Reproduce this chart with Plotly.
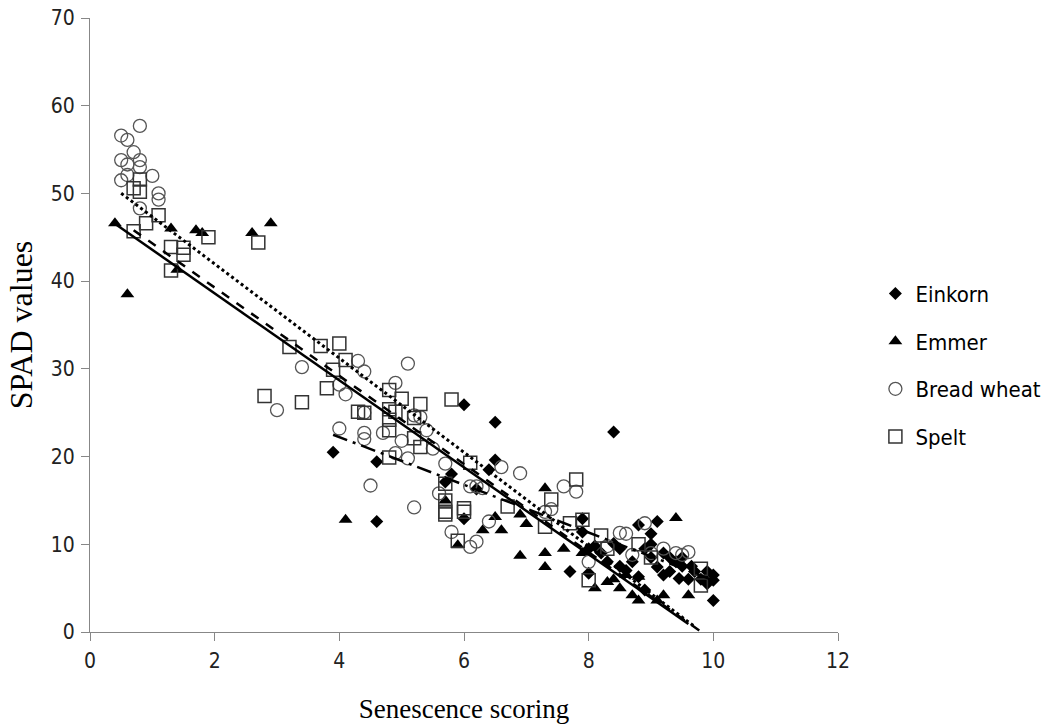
import numpy as np
import plotly.graph_objects as go

# ---- data ----
einkorn_x = [3.9, 4.6, 4.6, 5.7, 5.8, 6.0, 6.0, 6.2, 6.4, 6.5, 6.5, 7.7, 7.9, 8.0, 8.0, 8.1, 8.2, 8.4,
             8.4, 8.5, 8.6, 8.7, 8.8, 8.8, 8.9, 9.0, 9.0, 9.1, 9.1, 9.2, 9.2, 9.3, 9.3, 9.4, 9.45, 9.5,
             9.6, 9.7, 9.8, 9.9, 9.9, 10.0, 10.0, 10.0, 9.0, 8.5, 7.9, 8.3, 9.5, 9.65, 8.9]
einkorn_y = [20.5, 19.4, 12.6, 17.1, 18.0, 25.9, 12.9, 16.3, 18.5, 19.6, 23.9, 6.9, 12.9, 6.7, 9.5, 9.8, 9.0, 10.1,
             22.8, 7.5, 7.0, 8.0, 12.2, 6.3, 9.5, 11.2, 8.5, 12.6, 7.4, 9.0, 6.5, 6.9, 8.5, 8.0, 6.1, 7.5,
             6.0, 6.9, 6.0, 6.9, 5.5, 5.9, 3.6, 6.5, 10.0, 9.5, 11.4, 8.0, 8.5, 7.5, 4.8]

emmer_x = [0.4, 0.6, 1.3, 1.4, 1.7, 1.8, 2.6, 2.9, 4.1, 5.7, 5.9, 6.3, 6.5, 6.6, 6.9, 6.9, 7.0, 7.3,
           7.3, 7.3, 7.6, 7.9, 8.1, 8.3, 8.4, 8.5, 8.6, 8.7, 8.8, 8.8, 9.1, 9.2, 9.4, 9.6]
emmer_y = [46.6, 38.5, 46.0, 41.3, 45.8, 45.5, 45.5, 46.6, 12.8, 15.0, 9.9, 11.6, 13.1, 11.6, 13.4, 8.7, 12.3, 16.4,
           9.0, 7.4, 9.5, 9.0, 5.0, 5.7, 6.0, 5.0, 6.5, 4.2, 6.3, 3.6, 3.6, 4.2, 13.0, 4.2]

bread_x = [0.5, 0.6, 0.8, 0.7, 0.5, 0.8, 0.6, 0.8, 1.0, 0.6, 0.5, 1.1, 1.1, 0.8, 3.0, 3.4, 4.0, 4.0,
           4.1, 4.3, 4.4, 4.4, 4.4, 4.4, 4.5, 4.7, 4.9, 4.9, 5.0, 5.1, 5.1, 5.2, 5.2, 5.3, 5.4, 5.5,
           5.6, 5.7, 5.8, 6.1, 6.1, 6.2, 6.2, 6.3, 6.4, 6.6, 6.9, 7.3, 7.4, 7.6, 7.8, 8.0, 8.5, 8.6,
           8.9, 8.7, 9.0, 9.4, 9.5, 9.6, 8.3, 9.2]
bread_y = [56.6, 56.1, 57.7, 54.7, 53.8, 53.8, 53.3, 53.0, 52.0, 52.1, 51.5, 50.0, 49.3, 48.3, 25.3, 30.2, 28.2, 23.2,
           27.1, 30.9, 29.7, 25.0, 22.7, 22.0, 16.7, 22.7, 28.4, 20.4, 21.8, 30.6, 19.8, 24.7, 14.2, 24.5, 23.0, 20.9,
           15.8, 19.2, 11.4, 16.6, 9.7, 10.3, 16.6, 16.4, 12.6, 18.8, 18.1, 13.7, 14.0, 16.6, 16.0, 8.0, 11.3, 11.2,
           12.4, 8.8, 9.0, 9.0, 8.8, 9.1, 9.8, 9.5]

spelt_x = [0.8, 0.7, 0.8, 1.1, 0.9, 0.7, 1.9, 2.7, 1.3, 1.5, 1.5, 1.3, 2.8, 3.2, 3.4, 3.7, 3.8, 3.9,
           4.0, 4.1, 4.3, 4.4, 4.8, 4.8, 4.9, 4.8, 4.8, 4.8, 5.0, 5.2, 5.2, 5.3, 5.3, 5.7, 5.7, 5.7,
           5.7, 5.8, 6.0, 6.0, 5.9, 6.1, 6.7, 7.3, 7.4, 7.7, 7.8, 8.0, 8.2, 8.3, 8.8, 9.0, 9.8, 9.8, 7.9]
spelt_y = [51.6, 50.6, 50.2, 47.5, 46.6, 45.7, 45.0, 44.4, 43.9, 43.8, 43.0, 41.2, 26.9, 32.5, 26.2, 32.6, 27.8, 29.9,
           32.9, 31.0, 25.1, 25.0, 27.6, 25.4, 25.1, 24.2, 23.0, 19.9, 26.6, 24.4, 22.1, 26.0, 21.1, 16.9, 15.0, 13.7,
           13.4, 26.5, 14.1, 13.7, 10.4, 19.3, 14.3, 12.0, 15.1, 12.4, 17.4, 5.9, 11.0, 9.5, 10.0, 8.5, 7.2, 5.3, 12.8]

# linear trend lines (slope, intercept, x range)
trend_names = ["Einkorn", "Emmer", "Bread wheat", "Spelt"]
trend_slope = [-2.72, -4.96, -5.37, -5.03]
trend_intercept = [33.1, 48.53, 52.7, 49.33]
trend_xmin = [3.9, 0.4, 0.5, 0.7]
trend_xmax = [10.0, 9.6, 9.7, 9.8]

x_ticks = [0, 2, 4, 6, 8, 10, 12]
y_ticks = [0, 10, 20, 30, 40, 50, 60, 70]

TICK_FONT = "Liberation Sans Narrow, Arial Narrow, DejaVu Sans Condensed, sans-serif"
SERIF = "Liberation Serif, Times New Roman, serif"
AXIS_COL = "#878787"

fig = go.Figure()

fig.add_trace(go.Scatter(x=einkorn_x, y=einkorn_y, mode="markers", name="Einkorn", legendgroup="a",
                         marker=dict(symbol="diamond", size=10, color="black", line=dict(width=0))))
fig.add_trace(go.Scatter(x=emmer_x, y=emmer_y, mode="markers", name="Emmer", legendgroup="b",
                         marker=dict(symbol="triangle-up", size=12, color="black", line=dict(width=0))))
fig.add_trace(go.Scatter(x=bread_x, y=bread_y, mode="markers", name="Bread wheat", legendgroup="c",
                         marker=dict(symbol="circle-open", size=13, color="#555555", line=dict(width=1.3, color="#555555"))))
fig.add_trace(go.Scatter(x=spelt_x, y=spelt_y, mode="markers", name="Spelt", legendgroup="d",
                         marker=dict(symbol="square-open", size=13, color="#333333", line=dict(width=1.5, color="#333333"))))

dashes = ["longdashdot", "solid", "dot", "dash"]
widths = [2.5, 2.5, 3, 2.5]
for name, m, b, x0, x1, d, w in zip(trend_names, trend_slope, trend_intercept, trend_xmin, trend_xmax, dashes, widths):
    xs = np.array([x0, x1])
    fig.add_trace(go.Scatter(x=xs, y=m * xs + b, mode="lines", showlegend=False, hoverinfo="skip",
                             line=dict(color="black", width=w, dash=d)))

fig.update_layout(
    width=1058, height=726,
    margin=dict(l=90, r=194, t=18, b=94),
    paper_bgcolor="white", plot_bgcolor="white",
    showlegend=True,
    legend=dict(x=1.05, y=0.585, xanchor="left", yanchor="top",
                font=dict(family=TICK_FONT, size=22, color="black"),
                tracegroupgap=16, itemwidth=30, bgcolor="rgba(0,0,0,0)"),
    xaxis=dict(range=[0, 12], tickvals=x_ticks, ticks="outside", ticklen=8, tickcolor=AXIS_COL,
               showline=True, linecolor=AXIS_COL, linewidth=1, showgrid=False, zeroline=False,
               ticklabelstandoff=2, automargin=False,
               tickfont=dict(family=TICK_FONT, size=21, color="#222222"),
               title=dict(text="Senescence scoring", font=dict(family=SERIF, size=27, color="black"), standoff=26)),
    yaxis=dict(range=[0, 70], tickvals=y_ticks, ticks="outside", ticklen=8, tickcolor=AXIS_COL,
               showline=True, linecolor=AXIS_COL, linewidth=1, showgrid=False, zeroline=False,
               ticklabelstandoff=2, automargin=False,
               tickfont=dict(family=TICK_FONT, size=21, color="#222222"),
               title=dict(text="SPAD values", font=dict(family=SERIF, size=32, color="black"), standoff=8)),
)

fig.write_html("out.html")
